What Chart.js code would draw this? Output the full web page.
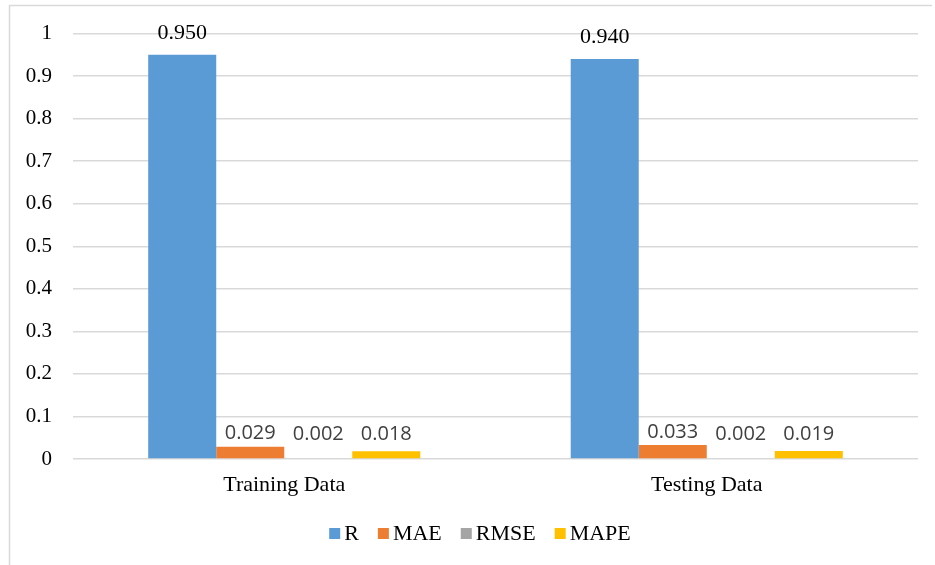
<!DOCTYPE html>
<html>
<head>
<meta charset="utf-8">
<title>Model performance metrics</title>
<script src="https://cdn.jsdelivr.net/npm/chart.js@4.4.1/dist/chart.umd.min.js"></script>
<style>
  html, body { margin: 0; padding: 0; background: #ffffff; }
  #wrap { width: 935px; height: 565px; position: relative; }
</style>
</head>
<body>
<div id="wrap"><canvas id="chart" width="935" height="565"></canvas></div>
<script>
// Categories, series and axis tick labels
const categories = ['Training Data', 'Testing Data'];
const seriesNames = ['R', 'MAE', 'RMSE', 'MAPE'];
const rValues = [0.950, 0.940];
const maeValues = [0.029, 0.033];
const rmseValues = [0.002, 0.002];
const mapeValues = [0.018, 0.019];
const yTickLabels = ['0', '0.1', '0.2', '0.3', '0.4', '0.5', '0.6', '0.7', '0.8', '0.9', '1'];

const seriesColors = ['#5B9BD5', '#ED7D31', '#A5A5A5', '#FFC000'];
const seriesValues = [rValues, maeValues, rmseValues, mapeValues];

const SERIF = '"Liberation Serif", "Times New Roman", serif';
const SANS = '"Open Sans", "Noto Sans", sans-serif';

// Value labels above each bar: R uses a serif face, the error metrics a grey sans face
const valueLabels = {
  id: 'valueLabels',
  afterDatasetsDraw(chart) {
    const ctx = chart.ctx;
    const yScale = chart.scales.y;
    const floorY = yScale.getPixelForValue(0) - 25;
    chart.data.datasets.forEach((ds, di) => {
      const meta = chart.getDatasetMeta(di);
      meta.data.forEach((bar, i) => {
        const v = ds.data[i];
        const text = v.toFixed(3);
        ctx.save();
        ctx.textAlign = 'center';
        ctx.textBaseline = 'middle';
        let cy;
        if (di === 0) {
          ctx.font = '22px ' + SERIF;
          ctx.fillStyle = '#000000';
          cy = bar.y - 22;
        } else {
          ctx.font = '20px ' + SANS;
          ctx.fillStyle = '#404040';
          cy = Math.min(bar.y - 13, floorY);
        }
        ctx.fillText(text, bar.x, cy);
        ctx.restore();
      });
    });
  }
};

// Outer frame (top and left edges) and a centred legend row under the axis
const frameAndLegend = {
  id: 'frameAndLegend',
  beforeDraw(chart) {
    const ctx = chart.ctx;
    ctx.save();
    ctx.fillStyle = '#ffffff';
    ctx.fillRect(0, 0, chart.width, chart.height);
    ctx.strokeStyle = '#D9D9D9';
    ctx.lineWidth = 1.5;
    ctx.beginPath();
    ctx.moveTo(9.5, chart.height);
    ctx.lineTo(9.5, 5.5);
    ctx.lineTo(932, 5.5);
    ctx.stroke();
    ctx.restore();
  },
  afterDraw(chart) {
    const ctx = chart.ctx;
    const box = 11, gap = 4, spacing = 19, centerX = 480, centerY = 533.5;
    ctx.save();
    ctx.font = '22px ' + SERIF;
    ctx.textBaseline = 'middle';
    ctx.textAlign = 'left';
    const items = chart.data.datasets.map(ds => ({
      label: ds.label, color: ds.backgroundColor, w: ctx.measureText(ds.label).width
    }));
    let total = 0;
    items.forEach((it, i) => { total += box + gap + it.w + (i < items.length - 1 ? spacing : 0); });
    let x = centerX - total / 2;
    items.forEach(it => {
      ctx.fillStyle = it.color;
      ctx.fillRect(x, centerY - box / 2, box, box);
      x += box + gap;
      ctx.fillStyle = '#000000';
      ctx.fillText(it.label, x, centerY + 1);
      x += it.w + spacing;
    });
    ctx.restore();
  }
};

const datasets = seriesNames.map((name, i) => ({
  label: name,
  data: seriesValues[i],
  backgroundColor: seriesColors[i],
  borderWidth: 0,
  barPercentage: 1.0,
  categoryPercentage: 0.644
}));

new Chart(document.getElementById('chart'), {
  type: 'bar',
  data: { labels: categories, datasets },
  options: {
    responsive: false,
    animation: false,
    devicePixelRatio: 1,
    layout: { padding: { left: 0, top: 33, right: 17, bottom: 56 } },
    plugins: {
      legend: { display: false },
      tooltip: { enabled: false }
    },
    scales: {
      x: {
        grid: { display: false, drawTicks: false },
        border: { display: false },
        ticks: {
          padding: 13,
          color: '#000000',
          font: { family: SERIF, size: 22 },
          maxRotation: 0
        },
        afterFit(scale) { scale.height = 50; }
      },
      y: {
        min: 0,
        max: 1,
        grid: { color: '#D9D9D9', lineWidth: 1.5, drawTicks: false },
        border: { display: false },
        ticks: {
          stepSize: 0.1,
          padding: 21,
          color: '#000000',
          font: { family: SERIF, size: 21 },
          callback: (value, index) => yTickLabels[index]
        },
        afterFit(scale) { scale.width = 73; }
      }
    }
  },
  plugins: [frameAndLegend, valueLabels]
});
</script>
</body>
</html>
